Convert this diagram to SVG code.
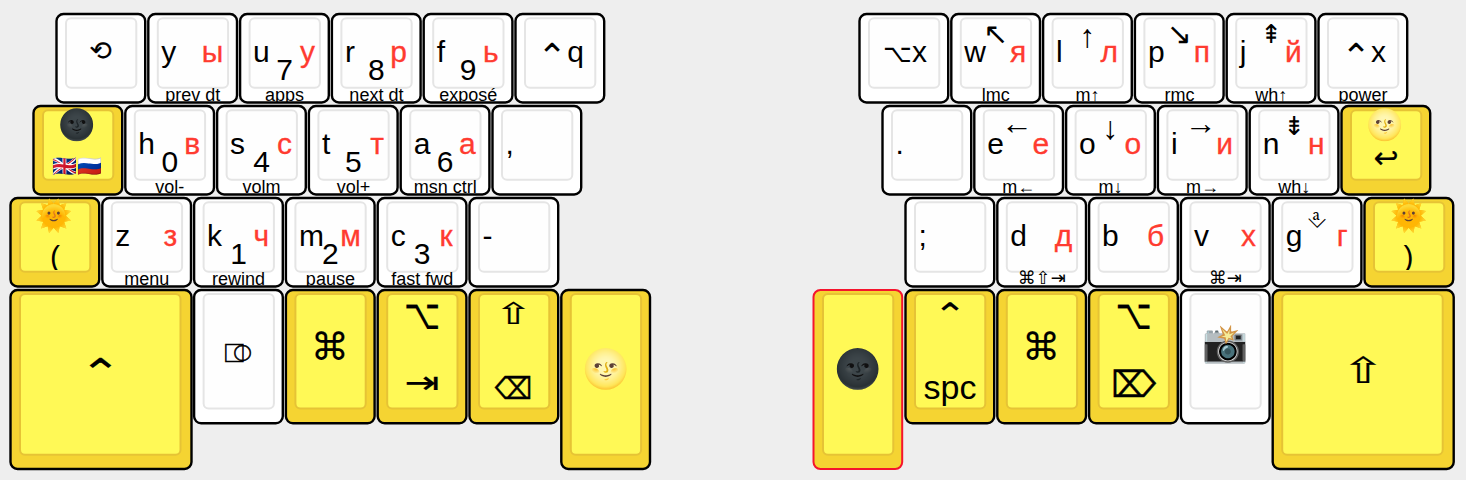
<svg xmlns="http://www.w3.org/2000/svg" width="1466" height="480" viewBox="0 0 1466 480">
<style>
text{font-family:"Liberation Sans","DejaVu Sans","Noto Sans",sans-serif;fill:#000;font-size:30px}
.o{fill:#fff;stroke:#000;stroke-width:2.4}.i{fill:#fefefe;stroke:#e5e5e5;stroke-width:2}
.y .o{fill:#f5d432}.y .i{fill:#fff956;stroke:#e6c335}
.red .o{stroke:#f5142d;stroke-width:2}
.l{text-anchor:start}.c{text-anchor:middle}.r{text-anchor:end;fill:#ff3b30;stroke:#ff3b30;stroke-width:.3}
.b{text-anchor:middle;font-size:18px}
.s{text-anchor:middle;font-family:"DejaVu Sans",sans-serif;stroke:#000;stroke-width:.15}
.t{text-anchor:middle;font-family:"DejaVu Sans",sans-serif;font-size:18px}
.a{text-anchor:middle;font-size:30px;font-family:"DejaVu Sans",sans-serif}
.e{text-anchor:middle;font-family:"Noto Color Emoji","DejaVu Sans",sans-serif}
.dk{filter:saturate(.35) brightness(.5)}
</style>
<defs><clipPath id="k"><rect x="0" y="0" width="91" height="89.5"/></clipPath><clipPath id="n"><rect x="0" y="0" width="91" height="73"/></clipPath></defs>
<rect width="1466" height="480" fill="#eee"/>

<g id="left-r1-undo" transform="translate(55.5,13)"><rect class="o" x="1" y="1" width="88.7" height="88.5" rx="7"/><rect class="i" x="10.5" y="5.3" width="70.3" height="69.4" rx="5"/><text class="s" x="45" y="47" style="font-size:27px">⟲</text></g>
<g id="left-r1-y" transform="translate(147.3,13)"><rect class="o" x="1" y="1" width="88.7" height="88.5" rx="7"/><rect class="i" x="10.5" y="5.3" width="70.3" height="69.4" rx="5"/><text class="l" x="14" y="49">y</text><text class="r" x="76" y="49">ы</text><text class="b" x="45.5" y="87.5" clip-path="url(#k)">prev dt</text></g>
<g id="left-r1-u" transform="translate(239.1,13)"><rect class="o" x="1" y="1" width="88.7" height="88.5" rx="7"/><rect class="i" x="10.5" y="5.3" width="70.3" height="69.4" rx="5"/><text class="l" x="14" y="49">u</text><text class="c" x="45.5" y="67">7</text><text class="r" x="76" y="49">у</text><text class="b" x="45.5" y="87.5" clip-path="url(#k)">apps</text></g>
<g id="left-r1-r" transform="translate(330.9,13)"><rect class="o" x="1" y="1" width="88.7" height="88.5" rx="7"/><rect class="i" x="10.5" y="5.3" width="70.3" height="69.4" rx="5"/><text class="l" x="14" y="49">r</text><text class="c" x="45.5" y="67">8</text><text class="r" x="76" y="49">р</text><text class="b" x="45.5" y="87.5" clip-path="url(#k)">next dt</text></g>
<g id="left-r1-f" transform="translate(422.7,13)"><rect class="o" x="1" y="1" width="88.7" height="88.5" rx="7"/><rect class="i" x="10.5" y="5.3" width="70.3" height="69.4" rx="5"/><text class="l" x="14" y="49">f</text><text class="c" x="45.5" y="67">9</text><text class="r" x="76" y="49">ь</text><text class="b" x="45.5" y="87.5" clip-path="url(#k)">exposé</text></g>
<g id="left-r1-ctrlq" transform="translate(514.5,13)"><rect class="o" x="1" y="1" width="88.7" height="88.5" rx="7"/><rect class="i" x="10.5" y="5.3" width="70.3" height="69.4" rx="5"/><text class="c" x="46" y="49"><tspan dy="7" style="font-size:36px">⌃</tspan><tspan dy="-7">q</tspan></text></g>

<g id="left-r2-moon" class="y" transform="translate(32.5,105)"><rect class="o" x="1" y="1" width="88.7" height="88.5" rx="7"/><rect class="i" x="10.5" y="5.3" width="70.3" height="69.4" rx="5"/><text class="e dk" x="45" y="30">🌚</text><text class="e" x="45" y="68" style="font-size:20px">🇬🇧🇷🇺</text></g>
<g id="left-r2-h" transform="translate(124.3,105)"><rect class="o" x="1" y="1" width="88.7" height="88.5" rx="7"/><rect class="i" x="10.5" y="5.3" width="70.3" height="69.4" rx="5"/><text class="l" x="14" y="49">h</text><text class="c" x="45.5" y="67">0</text><text class="r" x="76" y="49">в</text><text class="b" x="45.5" y="87.5" clip-path="url(#k)">vol-</text></g>
<g id="left-r2-s" transform="translate(216.1,105)"><rect class="o" x="1" y="1" width="88.7" height="88.5" rx="7"/><rect class="i" x="10.5" y="5.3" width="70.3" height="69.4" rx="5"/><text class="l" x="14" y="49">s</text><text class="c" x="45.5" y="67">4</text><text class="r" x="76" y="49">с</text><text class="b" x="45.5" y="87.5" clip-path="url(#k)">volm</text></g>
<g id="left-r2-t" transform="translate(307.9,105)"><rect class="o" x="1" y="1" width="88.7" height="88.5" rx="7"/><rect class="i" x="10.5" y="5.3" width="70.3" height="69.4" rx="5"/><text class="l" x="14" y="49">t</text><text class="c" x="45.5" y="67">5</text><text class="r" x="76" y="49">т</text><text class="b" x="45.5" y="87.5" clip-path="url(#k)">vol+</text></g>
<g id="left-r2-a" transform="translate(399.7,105)"><rect class="o" x="1" y="1" width="88.7" height="88.5" rx="7"/><rect class="i" x="10.5" y="5.3" width="70.3" height="69.4" rx="5"/><text class="l" x="14" y="49">a</text><text class="c" x="45.5" y="67">6</text><text class="r" x="76" y="49">а</text><text class="b" x="45.5" y="87.5" clip-path="url(#k)">msn ctrl</text></g>
<g id="left-r2-comma" transform="translate(491.5,105)"><rect class="o" x="1" y="1" width="88.7" height="88.5" rx="7"/><rect class="i" x="10.5" y="5.3" width="70.3" height="69.4" rx="5"/><text class="l" x="14" y="49">,</text></g>

<g id="left-r3-sun" class="y" transform="translate(9.5,197)"><rect class="o" x="1" y="1" width="88.7" height="88.5" rx="7"/><rect class="i" x="10.5" y="5.3" width="70.3" height="69.4" rx="5"/><text class="e" x="45" y="29">🌞</text><text class="c" x="45.5" y="70" clip-path="url(#n)">(</text></g>
<g id="left-r3-z" transform="translate(101.3,197)"><rect class="o" x="1" y="1" width="88.7" height="88.5" rx="7"/><rect class="i" x="10.5" y="5.3" width="70.3" height="69.4" rx="5"/><text class="l" x="14" y="49">z</text><text class="r" x="76" y="49">з</text><text class="b" x="45.5" y="87.5" clip-path="url(#k)">menu</text></g>
<g id="left-r3-k" transform="translate(193.1,197)"><rect class="o" x="1" y="1" width="88.7" height="88.5" rx="7"/><rect class="i" x="10.5" y="5.3" width="70.3" height="69.4" rx="5"/><text class="l" x="14" y="49">k</text><text class="c" x="45.5" y="67">1</text><text class="r" x="76" y="49">ч</text><text class="b" x="45.5" y="87.5" clip-path="url(#k)">rewind</text></g>
<g id="left-r3-m" transform="translate(284.9,197)"><rect class="o" x="1" y="1" width="88.7" height="88.5" rx="7"/><rect class="i" x="10.5" y="5.3" width="70.3" height="69.4" rx="5"/><text class="l" x="14" y="49">m</text><text class="c" x="45.5" y="67">2</text><text class="r" x="76" y="49">м</text><text class="b" x="45.5" y="87.5" clip-path="url(#k)">pause</text></g>
<g id="left-r3-c" transform="translate(376.7,197)"><rect class="o" x="1" y="1" width="88.7" height="88.5" rx="7"/><rect class="i" x="10.5" y="5.3" width="70.3" height="69.4" rx="5"/><text class="l" x="14" y="49">c</text><text class="c" x="45.5" y="67">3</text><text class="r" x="76" y="49">к</text><text class="b" x="45.5" y="87.5" clip-path="url(#k)">fast fwd</text></g>
<g id="left-r3-minus" transform="translate(468.5,197)"><rect class="o" x="1" y="1" width="88.7" height="88.5" rx="7"/><rect class="i" x="10.5" y="5.3" width="70.3" height="69.4" rx="5"/><text class="l" x="14" y="49">-</text></g>

<g id="left-r4-ctrl" class="y" transform="translate(9.5,289)"><rect class="o" x="1" y="1" width="181" height="179" rx="7"/><rect class="i" x="10.5" y="5" width="160.5" height="160.7" rx="5"/><text class="s" transform="translate(91,98) scale(1,.8)" x="0" y="0" style="font-size:50px">⌃</text></g>
<g id="left-r4-compose" transform="translate(193.1,289)"><rect class="o" x="1" y="1" width="88.7" height="133.3" rx="7"/><rect class="i" x="10.5" y="5" width="70.3" height="114.5" rx="5"/><text class="s" x="45" y="73" style="font-size:26px;stroke-width:.6">⎄</text></g>
<g id="left-r4-cmd" class="y" transform="translate(284.9,289)"><rect class="o" x="1" y="1" width="88.7" height="133.3" rx="7"/><rect class="i" x="10.5" y="5" width="70.3" height="114.5" rx="5"/><text class="s" x="45" y="71" style="font-size:38px">⌘</text></g>
<g id="left-r4-alt-tab" class="y" transform="translate(376.7,289)"><rect class="o" x="1" y="1" width="88.7" height="133.3" rx="7"/><rect class="i" x="10.5" y="5" width="70.3" height="114.5" rx="5"/><text class="s" transform="translate(45.5,40) scale(1.05,1.4)" x="0" y="0">⌥</text><text class="s" transform="translate(45.5,104) scale(1.4,1.05)" x="0" y="0">⇥</text></g>
<g id="left-r4-shift-bksp" class="y" transform="translate(468.5,289)"><rect class="o" x="1" y="1" width="88.7" height="133.3" rx="7"/><rect class="i" x="10.5" y="5" width="70.3" height="114.5" rx="5"/><text class="s" transform="translate(45,35) scale(1.55,1)" x="0" y="0">⇧</text><text class="s" transform="translate(45,110) scale(.88,1)" x="0" y="0" style="stroke-width:.4">⌫</text></g>
<g id="left-r4-fullmoon" class="y" transform="translate(560.3,289)"><rect class="o" x="1" y="1" width="88.7" height="179" rx="7"/><rect class="i" x="10.5" y="5" width="70.3" height="160.7" rx="5"/><text class="e" x="45.5" y="93" style="font-size:38px">🌝</text></g>

<g id="right-r1-altx" transform="translate(858.5,13)"><rect class="o" x="1" y="1" width="88.7" height="88.5" rx="7"/><rect class="i" x="10.5" y="5.3" width="70.3" height="69.4" rx="5"/><text class="c" x="46.5" y="49"><tspan style="font-size:25px">⌥</tspan>x</text></g>
<g id="right-r1-w" transform="translate(950.3,13)"><rect class="o" x="1" y="1" width="88.7" height="88.5" rx="7"/><rect class="i" x="10.5" y="5.3" width="70.3" height="69.4" rx="5"/><text class="l" x="14" y="49">w</text><text class="a" x="45.5" y="31">↖</text><text class="r" x="76" y="49">я</text><text class="b" x="45.5" y="87.5" clip-path="url(#k)">lmc</text></g>
<g id="right-r1-l" transform="translate(1042.1,13)"><rect class="o" x="1" y="1" width="88.7" height="88.5" rx="7"/><rect class="i" x="10.5" y="5.3" width="70.3" height="69.4" rx="5"/><text class="l" x="14" y="49">l</text><text class="c" x="45.5" y="34" style="font-size:32px">↑</text><text class="r" x="76" y="49">л</text><text class="b" x="45.5" y="87.5" clip-path="url(#k)">m↑</text></g>
<g id="right-r1-p" transform="translate(1133.9,13)"><rect class="o" x="1" y="1" width="88.7" height="88.5" rx="7"/><rect class="i" x="10.5" y="5.3" width="70.3" height="69.4" rx="5"/><text class="l" x="14" y="49">p</text><text class="a" x="45.5" y="31">↘</text><text class="r" x="76" y="49">п</text><text class="b" x="45.5" y="87.5" clip-path="url(#k)">rmc</text></g>
<g id="right-r1-j" transform="translate(1225.7,13)"><rect class="o" x="1" y="1" width="88.7" height="88.5" rx="7"/><rect class="i" x="10.5" y="5.3" width="70.3" height="69.4" rx="5"/><text class="l" x="14" y="49">j</text><text class="a" x="45.5" y="30" style="font-size:26px">⇞</text><text class="r" x="76" y="49">й</text><text class="b" x="45.5" y="87.5" clip-path="url(#k)">wh↑</text></g>
<g id="right-r1-ctrlx" transform="translate(1317.5,13)"><rect class="o" x="1" y="1" width="88.7" height="88.5" rx="7"/><rect class="i" x="10.5" y="5.3" width="70.3" height="69.4" rx="5"/><text class="c" x="46" y="49"><tspan dy="7" style="font-size:36px">⌃</tspan><tspan dy="-7">x</tspan></text><text class="b" x="45.5" y="87.5" clip-path="url(#k)">power</text></g>

<g id="right-r2-dot" transform="translate(881.5,105)"><rect class="o" x="1" y="1" width="88.7" height="88.5" rx="7"/><rect class="i" x="10.5" y="5.3" width="70.3" height="69.4" rx="5"/><text class="l" x="14" y="49">.</text></g>
<g id="right-r2-e" transform="translate(973.3,105)"><rect class="o" x="1" y="1" width="88.7" height="88.5" rx="7"/><rect class="i" x="10.5" y="5.3" width="70.3" height="69.4" rx="5"/><text class="l" x="14" y="49">e</text><text class="c" x="43.5" y="29" style="font-size:32px">←</text><text class="r" x="76" y="49">е</text><text class="b" x="45.5" y="87.5" clip-path="url(#k)">m←</text></g>
<g id="right-r2-o" transform="translate(1065.1,105)"><rect class="o" x="1" y="1" width="88.7" height="88.5" rx="7"/><rect class="i" x="10.5" y="5.3" width="70.3" height="69.4" rx="5"/><text class="l" x="14" y="49">o</text><text class="c" x="45.5" y="34" style="font-size:32px">↓</text><text class="r" x="76" y="49">о</text><text class="b" x="45.5" y="87.5" clip-path="url(#k)">m↓</text></g>
<g id="right-r2-i" transform="translate(1156.9,105)"><rect class="o" x="1" y="1" width="88.7" height="88.5" rx="7"/><rect class="i" x="10.5" y="5.3" width="70.3" height="69.4" rx="5"/><text class="l" x="14" y="49">i</text><text class="c" x="43.5" y="29" style="font-size:32px">→</text><text class="r" x="76" y="49">и</text><text class="b" x="45.5" y="87.5" clip-path="url(#k)">m→</text></g>
<g id="right-r2-n" transform="translate(1248.7,105)"><rect class="o" x="1" y="1" width="88.7" height="88.5" rx="7"/><rect class="i" x="10.5" y="5.3" width="70.3" height="69.4" rx="5"/><text class="l" x="14" y="49">n</text><text class="a" x="45.5" y="30" style="font-size:26px">⇟</text><text class="r" x="76" y="49">н</text><text class="b" x="45.5" y="87.5" clip-path="url(#k)">wh↓</text></g>
<g id="right-r2-moon" class="y" transform="translate(1340.5,105)"><rect class="o" x="1" y="1" width="88.7" height="88.5" rx="7"/><rect class="i" x="10.5" y="5.3" width="70.3" height="69.4" rx="5"/><text class="e" x="45" y="30">🌝</text><text class="s" x="45.5" y="63">↩</text></g>

<g id="right-r3-semi" transform="translate(904.5,197)"><rect class="o" x="1" y="1" width="88.7" height="88.5" rx="7"/><rect class="i" x="10.5" y="5.3" width="70.3" height="69.4" rx="5"/><text class="l" x="14" y="49">;</text></g>
<g id="right-r3-d" transform="translate(996.3,197)"><rect class="o" x="1" y="1" width="88.7" height="88.5" rx="7"/><rect class="i" x="10.5" y="5.3" width="70.3" height="69.4" rx="5"/><text class="l" x="14" y="49">d</text><text class="r" x="76" y="49">д</text><text class="t" x="45.5" y="87">⌘⇧⇥</text></g>
<g id="right-r3-b" transform="translate(1088.1,197)"><rect class="o" x="1" y="1" width="88.7" height="88.5" rx="7"/><rect class="i" x="10.5" y="5.3" width="70.3" height="69.4" rx="5"/><text class="l" x="14" y="49">b</text><text class="r" x="76" y="49">б</text></g>
<g id="right-r3-v" transform="translate(1179.9,197)"><rect class="o" x="1" y="1" width="88.7" height="88.5" rx="7"/><rect class="i" x="10.5" y="5.3" width="70.3" height="69.4" rx="5"/><text class="l" x="14" y="49">v</text><text class="r" x="76" y="49">х</text><text class="t" x="45.5" y="87">⌘⇥</text></g>
<g id="right-r3-g" transform="translate(1271.7,197)"><rect class="o" x="1" y="1" width="88.7" height="88.5" rx="7"/><rect class="i" x="10.5" y="5.3" width="70.3" height="69.4" rx="5"/><text class="l" x="14" y="49">g</text><text class="a" x="45" y="29.5" style="font-size:24px">⎀</text><text class="r" x="76" y="49">г</text></g>
<g id="right-r3-sun" class="y" transform="translate(1363.5,197)"><rect class="o" x="1" y="1" width="88.7" height="88.5" rx="7"/><rect class="i" x="10.5" y="5.3" width="70.3" height="69.4" rx="5"/><text class="e" x="45.5" y="29">🌞</text><text class="c" x="45" y="70" clip-path="url(#n)">)</text></g>

<g id="right-r4-moon" class="y red" transform="translate(812.5,289)"><rect class="o" x="1" y="1" width="88.7" height="179" rx="7"/><rect class="i" x="10.5" y="5" width="70.3" height="160.7" rx="5"/><text class="e dk" x="45.5" y="93" style="font-size:38px">🌚</text></g>
<g id="right-r4-ctrl-spc" class="y" transform="translate(904.5,289)"><rect class="o" x="1" y="1" width="88.7" height="133.3" rx="7"/><rect class="i" x="10.5" y="5" width="70.3" height="114.5" rx="5"/><text class="s" transform="translate(45.5,37) scale(1,.8)" x="0" y="0" style="font-size:40px">⌃</text><text class="c" x="45.5" y="110" style="font-size:34px">spc</text></g>
<g id="right-r4-cmd" class="y" transform="translate(996.3,289)"><rect class="o" x="1" y="1" width="88.7" height="133.3" rx="7"/><rect class="i" x="10.5" y="5" width="70.3" height="114.5" rx="5"/><text class="s" x="45" y="71" style="font-size:38px">⌘</text></g>
<g id="right-r4-alt-del" class="y" transform="translate(1088.1,289)"><rect class="o" x="1" y="1" width="88.7" height="133.3" rx="7"/><rect class="i" x="10.5" y="5" width="70.3" height="114.5" rx="5"/><text class="s" transform="translate(45.5,40) scale(1.05,1.4)" x="0" y="0">⌥</text><text class="s" transform="translate(45.5,108) scale(1.05,1.2)" x="0" y="0" style="stroke-width:.4">⌦</text></g>
<g id="right-r4-camera" transform="translate(1179.9,289)"><rect class="o" x="1" y="1" width="88.7" height="133.3" rx="7"/><rect class="i" x="10.5" y="5" width="70.3" height="114.5" rx="5"/><text class="e" x="45.5" y="67" style="font-size:37px;filter:saturate(.55)">📸</text></g>
<g id="right-r4-shift" class="y" transform="translate(1271.7,289)"><rect class="o" x="1" y="1" width="181" height="179" rx="7"/><rect class="i" x="10.5" y="5" width="160.5" height="160.7" rx="5"/><text class="s" transform="translate(91.5,94) scale(1.75,1.2)" x="0" y="0">⇧</text></g>
</svg>
